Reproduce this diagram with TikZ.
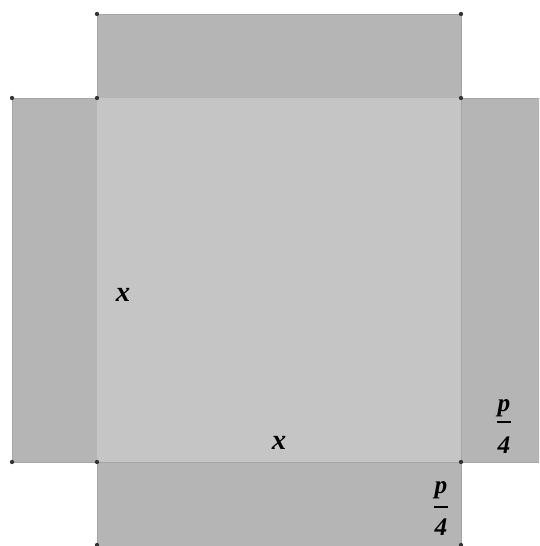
\documentclass[tikz,border=0pt]{standalone}
\usepackage{fontspec}
\setmainfont{Liberation Serif}
\definecolor{sqgray}{RGB}{197,197,197}
\definecolor{flapgray}{RGB}{181,181,181}
\definecolor{edgegray}{RGB}{165,165,165}
\definecolor{dotgray}{RGB}{51,51,51}

\begin{document}
\begin{tikzpicture}[x=0.75pt, y=-0.75pt]
  \tikzset{
    flap/.style={fill=flapgray, draw=edgegray, line width=0.5pt},
    base/.style={fill=sqgray},
    vertex/.style={circle, fill=dotgray, inner sep=0pt, minimum size=3.2pt},
    lbl/.style={font=\fontsize{21.5}{24}\selectfont\bfseries\itshape, inner sep=0pt},
    fraclbl/.style={font=\fontsize{19}{22}\selectfont\bfseries\itshape, inner sep=0pt}
  }
  \useasboundingbox (0,0) rectangle (539,546);
  \clip (0,0) rectangle (539,546);

  % flaps and base square
  \draw[flap] (97,14) rectangle (461,98);
  \draw[flap] (12,98) rectangle (97,462);
  \draw[flap] (461,98) rectangle (625,462);
  \draw[flap] (97,462) rectangle (461,626);
  \fill[base] (97,98) rectangle (461,462);

  % corner points
  \foreach \px/\py in {97/14, 461/14, 12/98, 97/98, 461/98,
                       12/462, 97/462, 461/462, 97/545, 461/545}
    \node[vertex] at (\px,\py) {};

  % side labels
  \node[lbl] (xl) at (123,295) {x};
  \node[lbl] (xb) at (279,443) {x};

  % p/4 on the right flap
  \node[fraclbl] (pR) at (504,408) {p};
  \node[fraclbl] (fR) at (504,445) {4};
  \coordinate (barRa) at (497,422);
  \coordinate (barRb) at (511,422);
  \draw[line width=1.6pt] (barRa) -- (barRb);

  % p/4 on the bottom flap
  \node[fraclbl] (pB) at (441,490) {p};
  \node[fraclbl] (fB) at (441,527) {4};
  \coordinate (barBa) at (434,507);
  \coordinate (barBb) at (448,507);
  \draw[line width=1.6pt] (barBa) -- (barBb);
\end{tikzpicture}
\end{document}
